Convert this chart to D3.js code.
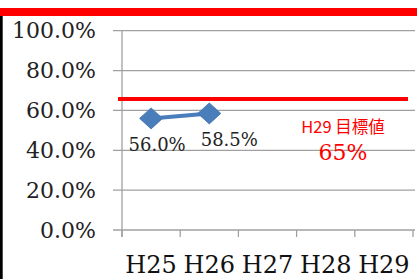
<!DOCTYPE html>
<html>
<head>
<meta charset="utf-8">
<script src="https://cdn.jsdelivr.net/npm/d3@7"></script>
<style>
  body { margin: 0; background: #fff; }
  svg { display: block; }
</style>
</head>
<body>
<svg id="chart" width="417" height="279"></svg>
<script>
  // data
  var years = ["H25", "H26", "H27", "H28", "H29"];
  var rates = [56.0, 58.5];
  var yTicks = [0, 20, 40, 60, 80, 100];
  var target = 65;
  var targetLabel = "H29 目標値";
  var targetValue = "65%";

  var W = 417, H = 279;
  // note: "top" is taken by window.top, so plotTop etc.
  var plotLeft = 122, plotRight = 413, plotTop = 30.7, plotBottom = 230;
  var grey = "#a0a0a0";
  var blue = "#4a7ebb";
  var red = "#ff0000";

  var svg = d3.select("#chart");

  var x = d3.scaleBand().domain(years).range([plotLeft, plotRight]);
  var y = d3.scaleLinear().domain([0, 100]).range([plotBottom, plotTop]);

  // frame bits: red band on top, black strip at left
  svg.append("rect").attr("x", 0).attr("y", 8).attr("width", W).attr("height", 8).attr("fill", red);
  svg.append("rect").attr("x", 0).attr("y", 16).attr("width", 2.7).attr("height", H - 16).attr("fill", "#000");

  // gridlines
  svg.append("g").selectAll("line")
    .data(yTicks)
    .enter().append("line")
    .attr("x1", plotLeft - 9).attr("x2", 415)
    .attr("y1", function(d) { return y(d); })
    .attr("y2", function(d) { return y(d); })
    .attr("stroke", grey).attr("stroke-width", 1.3);

  // y axis
  var yAxis = d3.axisLeft(y).tickValues(yTicks).tickSize(0).tickPadding(26)
    .tickFormat(function(d) { return d.toFixed(1) + "%"; });
  var ya = svg.append("g").attr("transform", "translate(" + plotLeft + ",0)").call(yAxis);
  ya.select(".domain").remove();
  ya.selectAll("text")
    .attr("font-family", "DejaVu Serif").attr("font-size", 22).attr("fill", "#222");
  svg.append("line").attr("x1", plotLeft).attr("x2", plotLeft).attr("y1", plotTop).attr("y2", plotBottom + 7)
    .attr("stroke", grey).attr("stroke-width", 1.3);

  // x axis ticks at category boundaries
  var bounds = years.map(function(d) { return x(d); }).concat([plotRight]);
  svg.append("g").selectAll("line")
    .data(bounds)
    .enter().append("line")
    .attr("x1", function(d) { return d; }).attr("x2", function(d) { return d; })
    .attr("y1", plotBottom).attr("y2", plotBottom + 7)
    .attr("stroke", grey).attr("stroke-width", 1.3);

  svg.append("g").selectAll("text")
    .data(years)
    .enter().append("text")
    .attr("x", function(d) { return x(d) + x.bandwidth() / 2; })
    .attr("y", 273)
    .attr("text-anchor", "middle")
    .attr("font-family", "DejaVu Serif").attr("font-size", 24).attr("fill", "#111")
    .text(function(d) { return d; });

  // target line
  svg.append("line").attr("x1", 118).attr("x2", 408)
    .attr("y1", y(target) - 1.5).attr("y2", y(target) - 1.5)
    .attr("stroke", red).attr("stroke-width", 4);

  svg.append("text").attr("x", 343).attr("y", 133)
    .attr("text-anchor", "middle")
    .attr("font-family", "Noto Sans CJK JP").attr("font-size", 16.5).attr("fill", red)
    .text(targetLabel);
  svg.append("text").attr("x", 343).attr("y", 159.5)
    .attr("text-anchor", "middle")
    .attr("font-family", "DejaVu Serif").attr("font-size", 22).attr("fill", red)
    .text(targetValue);

  // series
  var pts = rates.map(function(v, i) { return [x(years[i]) + x.bandwidth() / 2, y(v)]; });
  svg.append("path")
    .attr("d", d3.line()(pts))
    .attr("fill", "none").attr("stroke", blue).attr("stroke-width", 4);

  svg.append("g").selectAll("path")
    .data(pts)
    .enter().append("path")
    .attr("transform", function(d) { return "translate(" + d[0] + "," + d[1] + ")"; })
    .attr("d", "M-11.5,0L0,-10.5L11.5,0L0,10.5Z")
    .attr("fill", blue).attr("stroke", "#3f71ad").attr("stroke-width", 0.8);

  // data labels, nudged like the original
  var nudge = [6, 20];
  svg.append("g").selectAll("text")
    .data(rates)
    .enter().append("text")
    .attr("x", function(d, i) { return pts[i][0] + nudge[i]; })
    .attr("y", function(d, i) { return pts[i][1] + 33; })
    .attr("text-anchor", "middle")
    .attr("font-family", "DejaVu Serif").attr("font-size", 18).attr("fill", "#222")
    .text(function(d) { return d.toFixed(1) + "%"; });
</script>
</body>
</html>
